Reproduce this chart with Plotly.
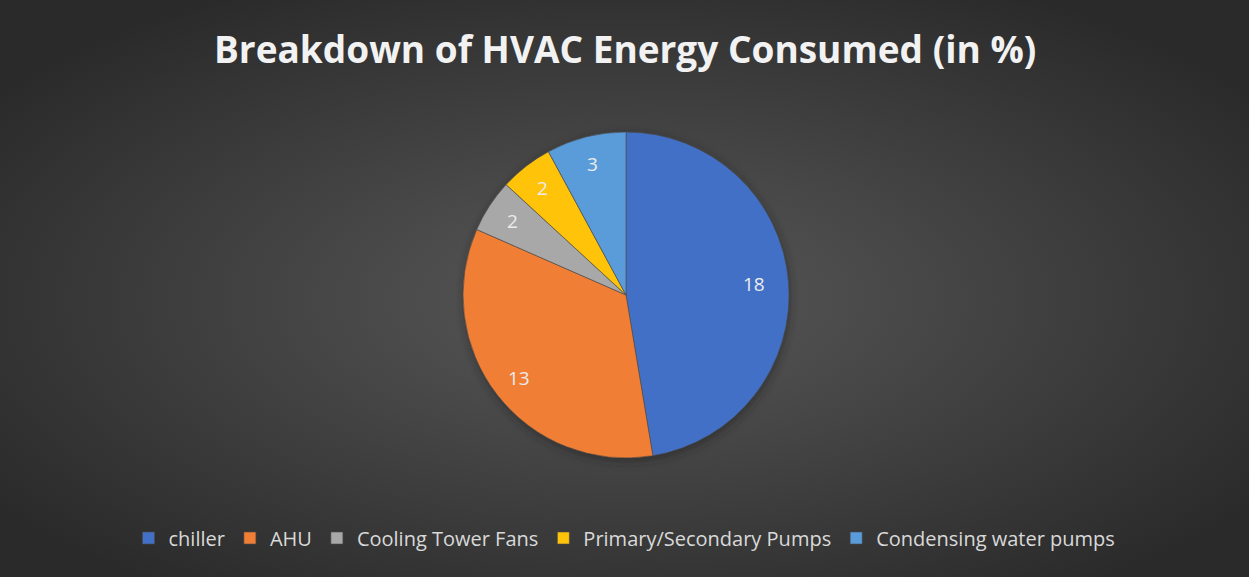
import base64
import math
import plotly.graph_objects as go

# ---- data ----
categories = ["chiller", "AHU", "Cooling Tower Fans", "Primary/Secondary Pumps", "Condensing water pumps"]
values = [18, 13, 2, 2, 3]
colors = ["#4270C6", "#F07E35", "#A8A8A8", "#FFC30A", "#5A9CDA"]
title_text = "Breakdown of HVAC Energy Consumed (in %)"

W, H = 1249, 577
CX, CY, R = 626, 295, 163  # pie centre / radius in pixels (layout)

# radial-gradient background as an SVG image
svg = f"""<svg xmlns='http://www.w3.org/2000/svg' width='{W}' height='{H}' viewBox='0 0 {W} {H}' preserveAspectRatio='none'>
<defs>
<radialGradient id='g' cx='50%' cy='52%' r='62%'>
<stop offset='0%' stop-color='#595959'/>
<stop offset='100%' stop-color='#2a2a2a'/>
</radialGradient>
<filter id='b' x='-20%' y='-20%' width='140%' height='140%'><feGaussianBlur stdDeviation='5'/></filter>
</defs>
<rect width='{W}' height='{H}' fill='url(#g)'/>
<circle cx='{CX + 1}' cy='{CY + 3}' r='{R}' fill='#1e1e1e' opacity='0.55' filter='url(#b)'/>
</svg>"""
bg_src = "data:image/svg+xml;base64," + base64.b64encode(svg.encode()).decode()

dom_x = [(CX - R) / W, (CX + R) / W]
dom_y = [1 - (CY + R) / H, 1 - (CY - R) / H]

fig = go.Figure(
    go.Pie(
        labels=categories,
        values=values,
        sort=False,
        direction="clockwise",
        rotation=0,
        marker=dict(colors=colors, line=dict(color="#4a4a4a", width=0.6)),
        textinfo="none",
        domain=dict(x=dom_x, y=dom_y),
        hoverinfo="label+value+percent",
    )
)

# value labels placed along each slice's mid-angle (computed from the data)
total = sum(values)
annotations = []
cum = 0
for v in values:
    mid = (cum + v / 2) / total * 2 * math.pi
    cum += v
    rf = 0.79 if v / total > 0.4 else 0.83
    px = CX + R * rf * math.sin(mid)
    py = CY - R * rf * math.cos(mid)
    annotations.append(dict(text=str(v), x=px / W, y=1 - py / H, xref="paper", yref="paper",
                            xanchor="center", yanchor="middle", showarrow=False,
                            font=dict(family="Open Sans", size=19, color="#ececec")))

annotations.append(dict(text="<b>" + title_text + "</b>", x=0.5, y=1 - 49 / H, xref="paper", yref="paper",
                        xanchor="center", yanchor="middle", showarrow=False,
                        font=dict(family="Open Sans", size=37, color="#f2f2f2")))

fig.update_layout(
    width=W,
    height=H,
    margin=dict(l=0, r=0, t=0, b=0),
    paper_bgcolor="#3c3c3c",
    plot_bgcolor="rgba(0,0,0,0)",
    images=[dict(source=bg_src, xref="paper", yref="paper", x=0, y=1, sizex=1, sizey=1,
                 xanchor="left", yanchor="top", sizing="stretch", layer="below")],
    annotations=annotations,
    showlegend=True,
    legend=dict(orientation="h", x=0.5, xanchor="center", y=1 - 538 / H, yanchor="middle",
                font=dict(family="Open Sans", size=20, color="#d9d9d9"),
                bgcolor="rgba(0,0,0,0)", traceorder="normal"),
)

fig.write_html("out.html", config={"displayModeBar": False},
               post_script="document.body.style.margin='0';document.body.style.overflow='hidden';")
